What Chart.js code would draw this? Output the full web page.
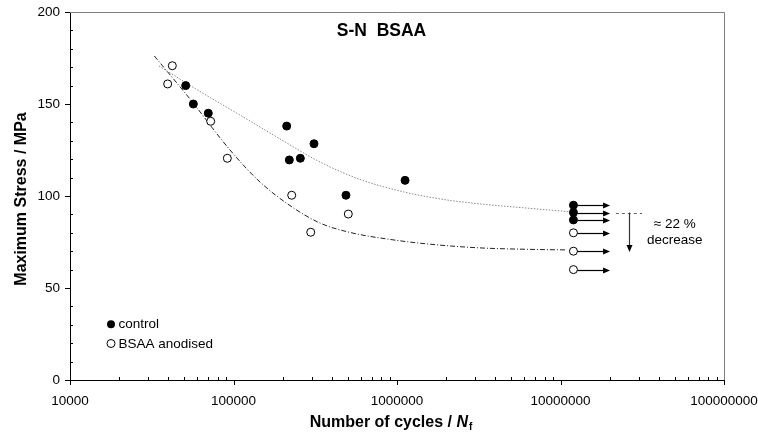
<!DOCTYPE html>
<html>
<head>
<meta charset="utf-8">
<script src="https://cdn.jsdelivr.net/npm/chart.js@4"></script>
<style>
html,body{margin:0;padding:0;background:#fff;}
#wrap{width:758px;height:436px;}
</style>
</head>
<body>
<div id="wrap"><canvas id="c" width="758" height="436"></canvas></div>
<script>
// ---- data ----
const chartTitle = "S-N  BSAA";
const yTitle = "Maximum Stress / MPa";
const xTitleMain = "Number of cycles / ";
const xTitleVar = "N";
const xTitleSub = "f";
const legendLabels = ["control", "BSAA anodised"];
const annotationLines = ["\u2248 22 %", "decrease"];

const xTickValues = [10000, 100000, 1000000, 10000000, 100000000];
const yTickValues = [0, 50, 100, 150, 200];

const controlCycles = [51000, 56800, 70100, 211500, 219500, 256300, 310700, 487500, 1120000];
const controlStress = [160, 150, 145, 138, 119.6, 120.5, 128.4, 100.4, 108.5];
const controlRunoutStress = [95, 91, 87];

const bsaaCycles = [42250, 39580, 72530, 91660, 227000, 296700, 503700];
const bsaaStress = [170.8, 160.9, 140.6, 120.5, 100.4, 80.3, 90.2];
const bsaaRunoutStress = [80, 70, 60];

const runoutCycles = 12000000;
const runoutArrowEnd = 20100000;

const controlFitCycles = [35020, 62400, 109600, 192500, 338100, 593800, 1043000, 1833000, 3218000, 5654000, 11930000];
const controlFitStress = [170.7, 156.8, 144.0, 131.0, 118.5, 109.0, 102.7, 98.4, 95.7, 93.75, 91.3];
const bsaaFitCycles = [32790, 54200, 95200, 145300, 221600, 338100, 515900, 906500, 1591000, 3218000, 6508000, 10960000];
const bsaaFitStress = [176.1, 152.7, 125.0, 107.6, 94.8, 85.3, 80.2, 76.4, 73.8, 71.8, 71.0, 70.7];

const decreaseRefStress = 91;
const decreaseEndStress = 69.6;
const decreaseRefStart = 21800000;
const decreaseRefEnd = 31500000;
const decreaseArrowCycles = 26400000;
const annotationCycles = 50000000;
const annotationStress = [84.6, 75.8];

// ---- build ----
const FONT = "'Liberation Sans', Arial, Helvetica, sans-serif";
const pts = (xs, ys) => xs.map((x, i) => ({x: x, y: ys[i]}));
const runPts = (ys) => ys.map(y => ({x: runoutCycles, y: y}));

function arrowHead(ctx, x, y, dir, len, half) {
  ctx.beginPath();
  if (dir === 'right') {
    ctx.moveTo(x, y); ctx.lineTo(x - len, y - half); ctx.lineTo(x - len, y + half);
  } else {
    ctx.moveTo(x, y); ctx.lineTo(x - half, y - len); ctx.lineTo(x + half, y - len);
  }
  ctx.closePath(); ctx.fill();
}

const decor = {
  id: 'decor',
  beforeDatasetsDraw(chart) {
    const ctx = chart.ctx, xs = chart.scales.x, ys = chart.scales.y, a = chart.chartArea;
    ctx.save();
    ctx.strokeStyle = '#808080'; ctx.lineWidth = 1;
    ctx.beginPath();
    ctx.moveTo(a.left, a.top + 0.5); ctx.lineTo(a.right + 0.5, a.top + 0.5); ctx.lineTo(a.right + 0.5, a.bottom);
    ctx.stroke();
    ctx.setLineDash([3, 3]);
    ctx.strokeStyle = '#666';
    const yr = Math.round(ys.getPixelForValue(decreaseRefStress)) + 0.5;
    ctx.beginPath();
    ctx.moveTo(xs.getPixelForValue(decreaseRefStart), yr);
    ctx.lineTo(xs.getPixelForValue(decreaseRefEnd), yr);
    ctx.stroke();
    ctx.setLineDash([]);
    ctx.restore();
  },
  afterDatasetsDraw(chart) {
    const ctx = chart.ctx, xs = chart.scales.x, ys = chart.scales.y;
    ctx.save();
    ctx.strokeStyle = '#000'; ctx.fillStyle = '#000'; ctx.lineWidth = 1.2;
    const x0 = xs.getPixelForValue(runoutCycles) + 4;
    const x1 = xs.getPixelForValue(runoutArrowEnd);
    controlRunoutStress.concat(bsaaRunoutStress).forEach(v => {
      const y = Math.round(ys.getPixelForValue(v)) + 0.5;
      ctx.beginPath(); ctx.moveTo(x0, y); ctx.lineTo(x1 - 5, y); ctx.stroke();
      arrowHead(ctx, x1, y, 'right', 7, 3);
    });
    const xa = Math.round(xs.getPixelForValue(decreaseArrowCycles)) + 0.5;
    const ya0 = ys.getPixelForValue(decreaseRefStress);
    const ya1 = ys.getPixelForValue(decreaseEndStress);
    ctx.strokeStyle = '#333';
    ctx.beginPath(); ctx.moveTo(xa, ya0); ctx.lineTo(xa, ya1 - 5); ctx.stroke();
    ctx.fillStyle = '#000';
    arrowHead(ctx, xa, ya1, 'down', 7, 3);
    ctx.fillStyle = '#000';
    ctx.font = "13.5px " + FONT;
    ctx.textAlign = 'center'; ctx.textBaseline = 'middle';
    const xt = xs.getPixelForValue(annotationCycles);
    annotationLines.forEach((t, i) => ctx.fillText(t, xt, ys.getPixelForValue(annotationStress[i])));
    ctx.restore();
  },
  afterDraw(chart) {
    const ctx = chart.ctx, xs = chart.scales.x, ys = chart.scales.y, a = chart.chartArea;
    ctx.save();
    ctx.strokeStyle = '#000'; ctx.lineWidth = 1;
    ctx.beginPath();
    for (let v = 0; v <= 200; v += 10) {
      const y = Math.round(ys.getPixelForValue(v)) + 0.5;
      if (v % 50 === 0) { ctx.moveTo(a.left - 5, y); ctx.lineTo(a.left, y); }
      else { ctx.moveTo(a.left, y); ctx.lineTo(a.left + 3, y); }
    }
    for (let e = 4; e <= 8; e++) {
      for (let m = 1; m <= 9; m++) {
        if (e === 8 && m > 1) break;
        const x = Math.round(xs.getPixelForValue(m * Math.pow(10, e))) + 0.5;
        if (m === 1) { ctx.moveTo(x, a.bottom); ctx.lineTo(x, a.bottom + 5); }
        else { ctx.moveTo(x, a.bottom); ctx.lineTo(x, a.bottom - 3); }
      }
    }
    ctx.stroke();
    ctx.fillStyle = '#000';
    ctx.font = "bold 17.5px " + FONT;
    ctx.textAlign = 'center'; ctx.textBaseline = 'alphabetic';
    ctx.fillText(chartTitle, 381.5, 36);
    ctx.save();
    ctx.translate(25.5, 199);
    ctx.rotate(-Math.PI / 2);
    ctx.font = "bold 16px " + FONT;
    ctx.fillText(yTitle, 0, 0);
    ctx.restore();
    ctx.textAlign = 'left';
    const fMain = "bold 16px " + FONT, fVar = "italic bold 16px " + FONT, fSub = "bold 10px " + FONT;
    ctx.font = fMain; const w1 = ctx.measureText(xTitleMain).width;
    ctx.font = fVar; const w2 = ctx.measureText(xTitleVar).width;
    ctx.font = fSub; const w3 = ctx.measureText(xTitleSub).width;
    let xp = 391 - (w1 + w2 + w3 + 1) / 2;
    const by = 427;
    ctx.font = fMain; ctx.fillText(xTitleMain, xp, by); xp += w1;
    ctx.font = fVar; ctx.fillText(xTitleVar, xp, by); xp += w2 + 1;
    ctx.font = fSub; ctx.fillText(xTitleSub, xp, by + 3);
    ctx.font = "13.5px " + FONT;
    ctx.textBaseline = 'middle';
    ctx.lineWidth = 1;
    ctx.beginPath(); ctx.arc(111, 324.3, 4, 0, Math.PI * 2); ctx.fillStyle = '#000'; ctx.fill();
    ctx.beginPath(); ctx.arc(111, 343.5, 4, 0, Math.PI * 2); ctx.fillStyle = '#fff'; ctx.fill(); ctx.strokeStyle = '#000'; ctx.stroke();
    ctx.fillStyle = '#000';
    ctx.fillText(legendLabels[0], 118.5, 324.5);
    ctx.fillText(legendLabels[1], 118.5, 344);
    ctx.restore();
  }
};

const filled = {pointRadius: 4, pointBackgroundColor: '#000', pointBorderColor: '#000', pointBorderWidth: 1, showLine: false, order: 1};
const open = {pointRadius: 4, pointBackgroundColor: '#fff', pointBorderColor: '#000', pointBorderWidth: 1, showLine: false, order: 1};

new Chart(document.getElementById('c'), {
  type: 'scatter',
  data: {
    datasets: [
      Object.assign({label: legendLabels[0], data: pts(controlCycles, controlStress)}, filled),
      Object.assign({label: legendLabels[0] + ' run-out', data: runPts(controlRunoutStress)}, filled),
      Object.assign({label: legendLabels[1], data: pts(bsaaCycles, bsaaStress)}, open),
      Object.assign({label: legendLabels[1] + ' run-out', data: runPts(bsaaRunoutStress)}, open),
      {label: 'control fit', data: pts(controlFitCycles, controlFitStress), showLine: true, pointRadius: 0,
       borderColor: '#8a8a8a', borderWidth: 1, borderDash: [1.5, 1.5], cubicInterpolationMode: 'monotone', order: 2},
      {label: 'BSAA fit', data: pts(bsaaFitCycles, bsaaFitStress), showLine: true, pointRadius: 0,
       borderColor: '#222', borderWidth: 1, borderDash: [5, 2, 1, 2], cubicInterpolationMode: 'monotone', order: 2}
    ]
  },
  options: {
    responsive: false,
    animation: false,
    events: [],
    layout: {padding: {top: 12, right: 34, left: 0, bottom: 0}},
    plugins: {legend: {display: false}, tooltip: {enabled: false}, title: {display: false}},
    scales: {
      x: {
        type: 'logarithmic', min: 10000, max: 100000000,
        afterBuildTicks: s => { s.ticks = xTickValues.map(v => ({value: v})); },
        afterFit: s => { s.height = 56; s.paddingLeft = 0; s.paddingRight = 0; },
        grid: {display: false, drawTicks: false},
        border: {display: true, color: '#000', width: 1},
        ticks: {color: '#000', font: {family: FONT, size: 13.5}, padding: 13, maxRotation: 0, autoSkip: false,
                callback: v => String(v)}
      },
      y: {
        type: 'linear', min: 0, max: 200,
        afterBuildTicks: s => { s.ticks = yTickValues.map(v => ({value: v})); },
        afterFit: s => { s.width = 70; s.paddingTop = 0; s.paddingBottom = 0; },
        grid: {display: false, drawTicks: false},
        border: {display: true, color: '#000', width: 1},
        ticks: {color: '#000', font: {family: FONT, size: 13.5}, padding: 10, callback: v => String(v)}
      }
    }
  },
  plugins: [decor]
});
</script>
</body>
</html>
